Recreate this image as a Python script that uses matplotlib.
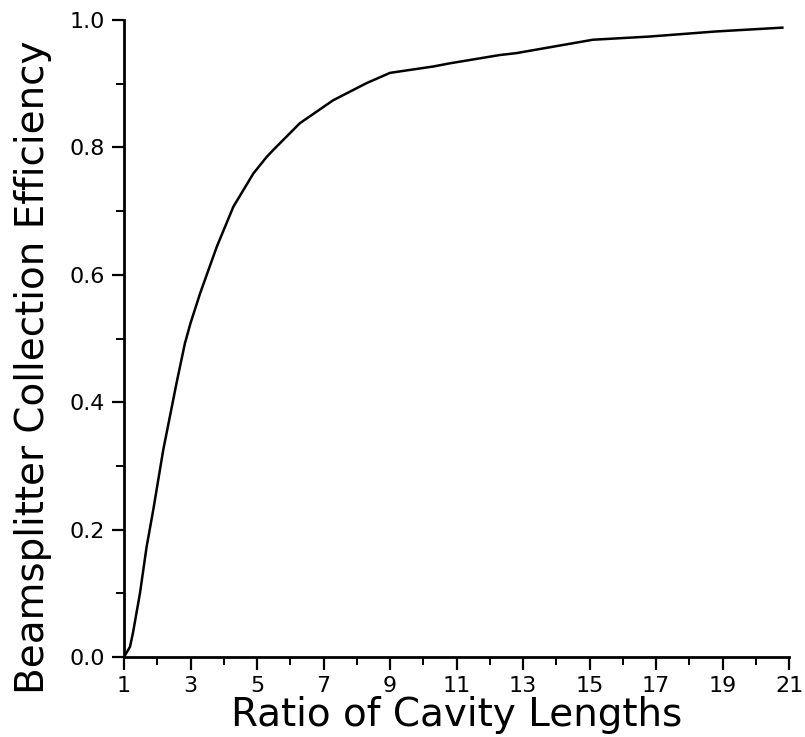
import matplotlib
matplotlib.use("Agg")
import matplotlib.pyplot as plt
from matplotlib.ticker import MultipleLocator

# Data
ratio = [1.0, 1.18, 1.27, 1.48, 1.68, 1.88, 2.18, 2.58, 2.83, 3.0, 3.29, 3.79, 4.29,
         4.89, 5.29, 5.49, 6.29, 7.29, 8.3, 9.0, 10.3, 10.8, 12.3, 12.8, 15.1,
         16.8, 18.8, 20.8]
efficiency = [0.0, 0.016, 0.038, 0.10, 0.173, 0.231, 0.325, 0.430, 0.492, 0.524, 0.571,
              0.644, 0.707, 0.759, 0.785, 0.796, 0.838, 0.874, 0.901, 0.917,
              0.927, 0.932, 0.945, 0.948, 0.969, 0.974, 0.982, 0.988]
xticks = [1, 3, 5, 7, 9, 11, 13, 15, 17, 19, 21]
yticks = [0.0, 0.2, 0.4, 0.6, 0.8, 1.0]
ytick_labels = ["0.0", "0.2", "0.4", "0.6", "0.8", "1.0"]

fig = plt.figure(figsize=(8.05, 7.37), dpi=100)
ax = fig.add_axes([124/805, 1 - 657/737, (789 - 124)/805, (657 - 20)/737])

ax.plot(ratio, efficiency, color="black", lw=1.8)

ax.set_xlim(1, 21)
ax.set_ylim(0, 1.0)
ax.set_xticks(xticks)
ax.set_xticklabels([str(t) for t in xticks])
ax.set_yticks(yticks)
ax.set_yticklabels(ytick_labels)
ax.xaxis.set_minor_locator(MultipleLocator(1))
ax.yaxis.set_minor_locator(MultipleLocator(0.1))

for s in ["top", "right"]:
    ax.spines[s].set_visible(False)
for s in ["left", "bottom"]:
    ax.spines[s].set_linewidth(2.0)

ax.tick_params(which="major", direction="out", length=9, width=1.6,
               labelsize=16, pad=5)
ax.tick_params(which="minor", direction="out", length=6, width=1.4)

ax.set_xlabel("Ratio of Cavity Lengths", fontsize=28, labelpad=0)
ax.set_ylabel("Beamsplitter Collection Efficiency", fontsize=28)
ax.yaxis.set_label_coords(-0.108, 0.455)

fig.savefig("out.png", dpi=100, facecolor="white")
